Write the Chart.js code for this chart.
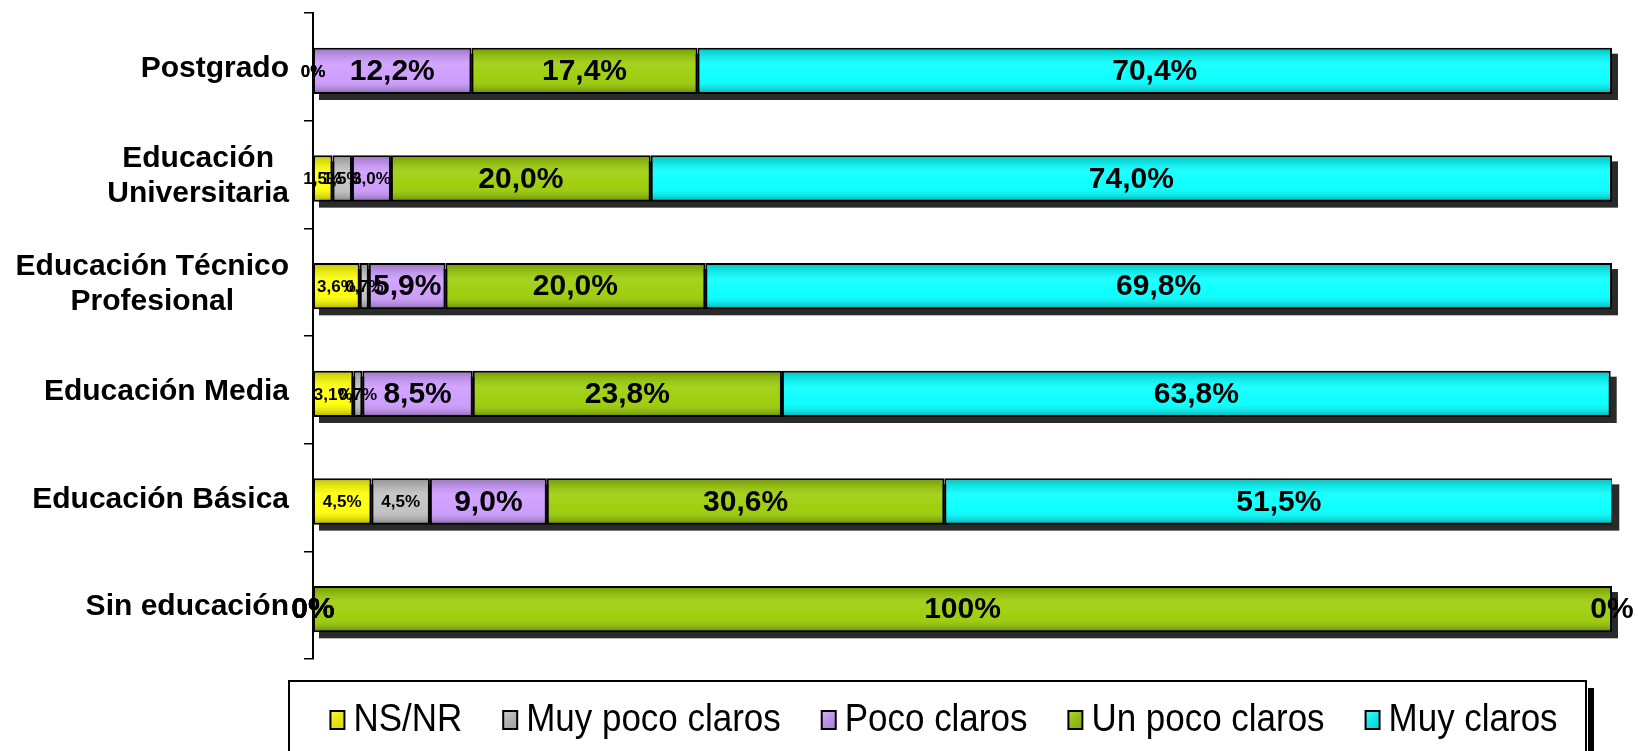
<!DOCTYPE html>
<html>
<head>
<meta charset="utf-8">
<script src="https://cdn.jsdelivr.net/npm/chart.js@4"></script>
<style>
  body { margin: 0; background: #fff; }
  canvas { display: block; }
</style>
</head>
<body>
<canvas id="chart" width="1638" height="751"></canvas>
<script>
const categories = ['Postgrado', ['Educación', 'Universitaria'], ['Educación Técnico', 'Profesional'], 'Educación Media', 'Educación Básica', 'Sin educación'];
const seriesNames = ['NS/NR', 'Muy poco claros', 'Poco claros', 'Un poco claros', 'Muy claros'];
const nsnr        = [0,    1.5,  3.6,  3.1,  4.5,  0];
const muyPoco     = [0,    1.5,  0.7,  0.7,  4.5,  0];
const poco        = [12.2, 3.0,  5.9,  8.5,  9.0,  0];
const unPoco      = [17.4, 20.0, 20.0, 23.8, 30.6, 100];
const muyClaros   = [70.4, 74.0, 69.8, 63.8, 51.5, 0];
const colors = ['#ffff00', '#c0c0c0', '#cc99ff', '#99cc00', '#00ffff'];

const values = [nsnr, muyPoco, poco, unPoco, muyClaros];
const FONT = '"Liberation Sans", Arial, sans-serif';
const BAR_SHIFT = 4; // bars sit a little below the category centre in the original

function fmt(v) {
  if (v === 0) return '0%';
  if (v === 100) return '100%';
  return v.toFixed(1).replace('.', ',') + '%';
}

const shiftStart = {
  id: 'shiftStart',
  beforeDatasetsDraw(chart) { chart.ctx.save(); chart.ctx.translate(0, BAR_SHIFT); }
};
const shiftEnd = {
  id: 'shiftEnd',
  afterDatasetsDraw(chart) { chart.ctx.restore(); }
};

// drop shadow under each whole bar
const shadowPlugin = {
  id: 'shadow',
  beforeDatasetsDraw(chart) {
    const ctx = chart.ctx;
    const metas = chart.data.datasets.map((d, i) => chart.getDatasetMeta(i));
    ctx.save();
    ctx.fillStyle = '#2a2a2a';
    categories.forEach((c, i) => {
      let l = Infinity, r = -Infinity, el0 = metas[0].data[i];
      metas.forEach(m => {
        const el = m.data[i];
        l = Math.min(l, el.base, el.x);
        r = Math.max(r, el.base, el.x);
      });
      const h = el0.height;
      ctx.fillRect(l + 6, el0.y - h / 2 + 6, r - l, h);
    });
    ctx.restore();
  }
};

// light 3d shading on the segments
const shadePlugin = {
  id: 'shade',
  afterDatasetsDraw(chart) {
    const ctx = chart.ctx;
    ctx.save();
    chart.data.datasets.forEach((d, di) => {
      chart.getDatasetMeta(di).data.forEach(el => {
        const w = Math.abs(el.x - el.base);
        if (w < 3) return;
        const top = el.y - el.height / 2 + 1.5, h = el.height - 3;
        const g = ctx.createLinearGradient(0, top, 0, top + h);
        g.addColorStop(0, 'rgba(0,0,0,0.22)');
        g.addColorStop(0.35, 'rgba(255,255,255,0.12)');
        g.addColorStop(0.7, 'rgba(255,255,255,0.05)');
        g.addColorStop(1, 'rgba(0,0,0,0.28)');
        ctx.fillStyle = g;
        ctx.fillRect(Math.min(el.x, el.base) + 1.5, top, w - 3, h);
      });
    });
    ctx.restore();
  }
};

const labelPlugin = {
  id: 'labels',
  afterDatasetsDraw(chart) {
    const ctx = chart.ctx;
    ctx.save();
    ctx.fillStyle = '#000';
    ctx.textAlign = 'center';
    ctx.textBaseline = 'middle';
    chart.data.datasets.forEach((d, di) => {
      chart.getDatasetMeta(di).data.forEach((el, i) => {
        const v = d.data[i];
        const full = values.some(s => s[i] === 100);
        const big = v >= 5 || (v === 0 && full);
        ctx.font = 'bold ' + (big ? 30 : 17) + 'px ' + FONT;
        ctx.fillText(fmt(v), (el.x + el.base) / 2, el.y + 1);
      });
    });
    ctx.restore();
  }
};

// category names: single lines right aligned, wrapped ones centred as a block
const catPlugin = {
  id: 'catLabels',
  afterDraw(chart) {
    const ctx = chart.ctx;
    const y = chart.scales.y;
    const right = y.right - 24;
    ctx.save();
    ctx.fillStyle = '#000';
    ctx.font = 'bold 30px ' + FONT;
    ctx.textAlign = 'center';
    ctx.textBaseline = 'middle';
    chart.data.labels.forEach((lab, i) => {
      const lines = Array.isArray(lab) ? lab : [lab];
      const widest = Math.max(...lines.map(s => ctx.measureText(s).width));
      const cx = right - widest / 2;
      const cy = y.getPixelForTick(i) + 2;
      lines.forEach((s, k) => {
        ctx.fillText(s, cx, cy + (k - (lines.length - 1) / 2) * 35);
      });
    });
    ctx.restore();
  }
};

// framed legend below the plot
const legendPlugin = {
  id: 'boxLegend',
  afterDraw(chart) {
    const ctx = chart.ctx;
    ctx.save();
    ctx.fillStyle = '#000';
    ctx.fillRect(1588, 688, 6, 80);
    ctx.strokeStyle = '#000';
    ctx.lineWidth = 2;
    ctx.fillStyle = '#fff';
    ctx.fillRect(289, 681, 1297, 90);
    ctx.strokeRect(289, 681, 1297, 90);

    const sx = 0.92;
    ctx.font = '38px ' + FONT;
    ctx.textBaseline = 'middle';
    const box = 14, gap = 9, sep = 41;
    const widths = chart.data.datasets.map(d => ctx.measureText(d.label).width * sx);
    const total = widths.reduce((a, b) => a + b, 0) + chart.data.datasets.length * (box + gap) + sep * (chart.data.datasets.length - 1);
    let x = 944 - total / 2;
    const cy = 720;
    chart.data.datasets.forEach((d, i) => {
      const g = ctx.createLinearGradient(x, cy - 9, x + box, cy + 9);
      g.addColorStop(0, 'rgba(255,255,255,0.25)');
      g.addColorStop(1, 'rgba(0,0,0,0.15)');
      ctx.fillStyle = d.backgroundColor;
      ctx.fillRect(x, cy - 9, box, 18);
      ctx.fillStyle = g;
      ctx.fillRect(x, cy - 9, box, 18);
      ctx.lineWidth = 2;
      ctx.strokeRect(x, cy - 9, box, 18);
      ctx.fillStyle = '#000';
      ctx.save();
      ctx.translate(x + box + gap, cy + 1);
      ctx.scale(sx, 1);
      ctx.fillText(d.label, 0, 0);
      ctx.restore();
      x += box + gap + widths[i] + sep;
    });
    ctx.restore();
  }
};

new Chart(document.getElementById('chart'), {
  type: 'bar',
  data: {
    labels: categories,
    datasets: seriesNames.map((name, i) => ({
      label: name,
      data: values[i],
      backgroundColor: colors[i],
      borderColor: '#000',
      borderWidth: 2,
      borderSkipped: false,
      barPercentage: 0.43,
      categoryPercentage: 1
    }))
  },
  options: {
    indexAxis: 'y',
    responsive: false,
    animation: false,
    layout: { padding: { top: 13, right: 26, bottom: 92, left: 0 } },
    plugins: { legend: { display: false }, tooltip: { enabled: false } },
    scales: {
      x: { stacked: true, min: 0, max: 100, display: false },
      y: {
        stacked: true,
        afterFit(scale) { scale.width = 313; scale.paddingTop = 0; scale.paddingBottom = 0; },
        border: { display: true, color: '#000', width: 2 },
        grid: { drawOnChartArea: false, drawTicks: true, tickLength: 9, color: '#000', lineWidth: 1.5 },
        ticks: { display: false }
      }
    }
  },
  plugins: [shiftStart, shadowPlugin, shadePlugin, labelPlugin, shiftEnd, catPlugin, legendPlugin]
});
</script>
</body>
</html>
